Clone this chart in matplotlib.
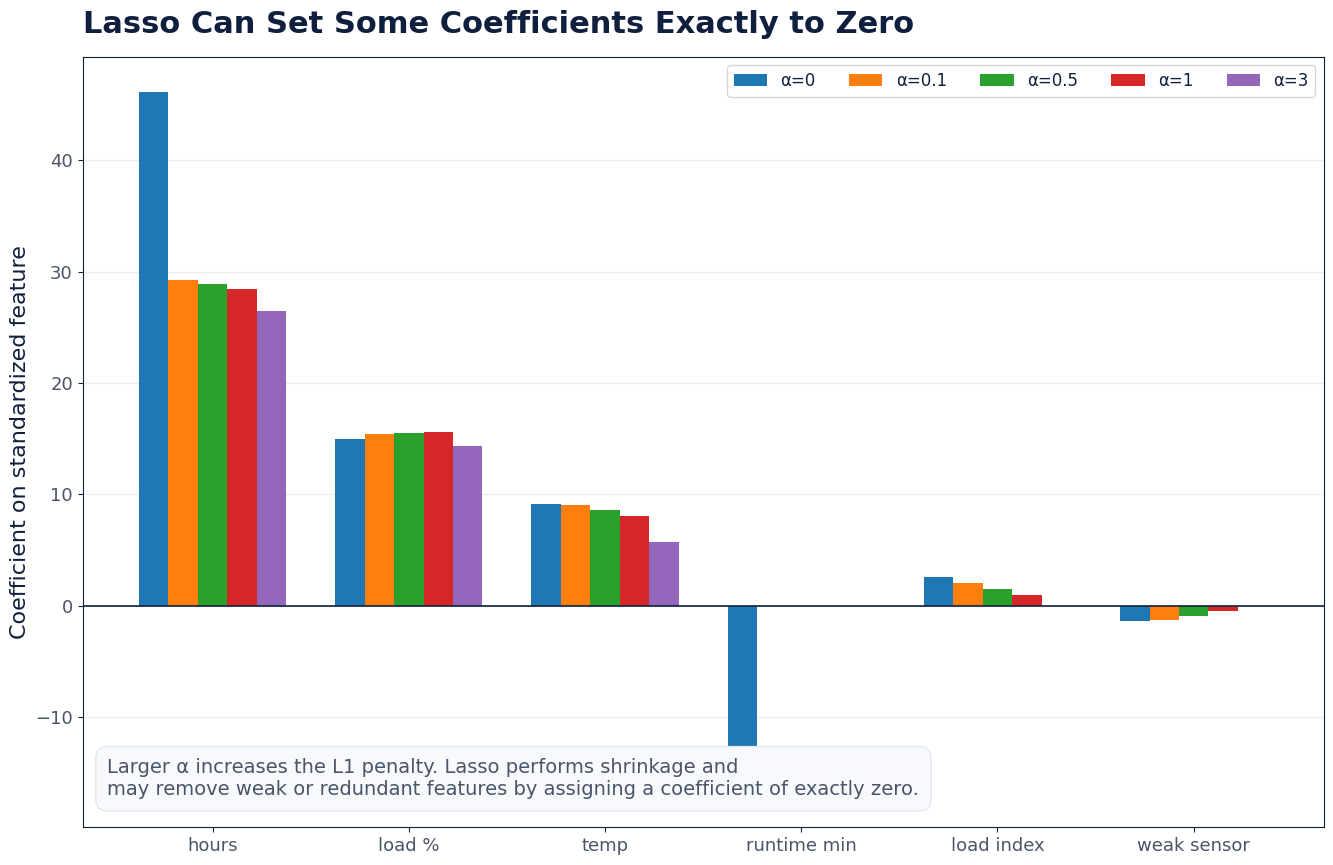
import numpy as np
import matplotlib.pyplot as plt

features = ["hours", "load %", "temp", "runtime min", "load index", "weak sensor"]
alpha_labels = ["α=0", "α=0.1", "α=0.5", "α=1", "α=3"]

coef_a0 = [46.1, 15.0, 9.15, -16.7, 2.6, -1.4]
coef_a01 = [29.2, 15.4, 9.05, 0.0, 2.06, -1.23]
coef_a05 = [28.9, 15.5, 8.6, 0.0, 1.52, -0.87]
coef_a1 = [28.4, 15.6, 8.07, 0.0, 0.99, -0.42]
coef_a3 = [26.5, 14.35, 5.74, 0.0, 0.0, 0.0]
all_coefs = [coef_a0, coef_a01, coef_a05, coef_a1, coef_a3]

colors = ["#1f77b4", "#ff7f0e", "#2ca02c", "#d62728", "#9467bd"]
navy = "#0f1f3d"
gray = "#4a5568"

fig, ax = plt.subplots(figsize=(13.33, 8.65), dpi=100)

x = np.arange(len(features))
width = 0.15
for i, (coefs, lab) in enumerate(zip(all_coefs, alpha_labels)):
    ax.bar(x + (i - 2) * width, coefs, width, color=colors[i], label=lab, zorder=2)

ax.axhline(0, color=navy, linewidth=1.2, zorder=3)
ax.grid(axis="y", color="#ececf0", linewidth=0.8, zorder=0)
ax.set_axisbelow(True)

ax.set_xticks(x)
ax.set_xticklabels(features)
ax.tick_params(axis="both", labelsize=13, labelcolor=gray, color=navy)
for s in ax.spines.values():
    s.set_color(navy)

ax.set_ylabel("Coefficient on standardized feature", fontsize=16, color=navy)
ax.set_title("Lasso Can Set Some Coefficients Exactly to Zero", loc="left",
             fontsize=22, fontweight="bold", color=navy, pad=17)

leg = ax.legend(ncol=5, loc="upper right", fontsize=12, frameon=True)
for t in leg.get_texts():
    t.set_color(navy)

ax.text(0.02, 0.036,
        "Larger α increases the L1 penalty. Lasso performs shrinkage and\n"
        "may remove weak or redundant features by assigning a coefficient of exactly zero.",
        transform=ax.transAxes, fontsize=14, color=gray, va="bottom", ha="left",
        zorder=5,
        bbox=dict(boxstyle="round,pad=0.6", facecolor="#f7f9fc", edgecolor="#e2e8f0"))

fig.subplots_adjust(left=0.062, right=0.993, top=0.934, bottom=0.044)
fig.savefig("out.png", dpi=100)
